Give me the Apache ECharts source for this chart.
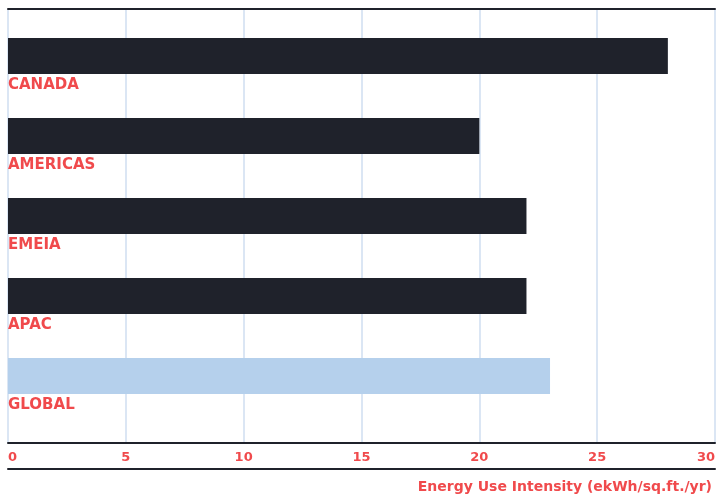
<!DOCTYPE html>
<html>
<head>
<meta charset="utf-8">
<script src="https://cdn.jsdelivr.net/npm/echarts@6/dist/echarts.min.js"></script>
<style>html,body{margin:0;padding:0;background:#fff}#c{width:720px;height:498px}</style>
</head>
<body>
<div id="c"></div>
<script>
const categories = ['CANADA', 'AMERICAS', 'EMEIA', 'APAC', 'GLOBAL'];
const values = [28, 20, 22, 22, 23];
const barColors = ['#1f222b', '#1f222b', '#1f222b', '#1f222b', '#b5d0ec'];
const axisName = 'Energy Use Intensity (ekWh/sq.ft./yr)';
const xMin = 0, xMax = 30, xStep = 5;

const RED = '#f04a4c';
const DARK = '#1f222b';
const FONT = 'DejaVu Sans';

const chart = echarts.init(document.getElementById('c'), null, {renderer: 'canvas'});
chart.setOption({
  animation: false,
  backgroundColor: '#fff',
  title: {
    text: axisName, right: 3, top: 475,
    textStyle: {color: RED, fontSize: 14, fontWeight: 'bold', fontFamily: FONT}
  },
  grid: [
    {left: 8, right: 5, top: 9, bottom: 55},
    {left: 8, right: 5, top: 16, bottom: 82}
  ],
  xAxis: [
    {
      gridIndex: 0, type: 'value', min: xMin, max: xMax, interval: xStep, position: 'bottom',
      axisLine: {show: true, lineStyle: {color: DARK, width: 2}},
      axisTick: {show: false},
      splitLine: {show: true, lineStyle: {color: '#dbe6f4', width: 2}},
      axisLabel: {color: RED, fontSize: 13, fontWeight: 'bold', fontFamily: FONT, margin: 8,
                  alignMinLabel: 'left', alignMaxLabel: 'right'}
    },
    {
      gridIndex: 0, type: 'value', min: xMin, max: xMax, interval: xStep, position: 'top',
      axisLine: {show: true, onZero: false, lineStyle: {color: DARK, width: 2}},
      axisTick: {show: false}, splitLine: {show: false}, axisLabel: {show: false}
    },
    {
      gridIndex: 0, type: 'value', min: xMin, max: xMax, interval: xStep, position: 'bottom', offset: 26,
      axisLine: {show: true, onZero: false, lineStyle: {color: DARK, width: 2}},
      axisTick: {show: false}, splitLine: {show: false}, axisLabel: {show: false}
    },
    {
      gridIndex: 1, type: 'value', min: xMin, max: xMax, show: false
    }
  ],
  yAxis: [
    {gridIndex: 0, type: 'value', show: false},
    {
      gridIndex: 1, type: 'category', data: categories, inverse: true,
      axisLine: {show: false}, axisTick: {show: false}, axisLabel: {show: false}, splitLine: {show: false}
    }
  ],
  series: [{
    type: 'bar', xAxisIndex: 3, yAxisIndex: 1, barWidth: 36,
    data: values.map((v, i) => ({value: v, itemStyle: {color: barColors[i]}})),
    label: {
      show: true, position: [0, '100%'], offset: [0, 4], align: 'left', verticalAlign: 'top',
      formatter: p => p.name, color: RED, fontSize: 15, fontWeight: 'bold', fontFamily: FONT
    }
  }]
});
</script>
</body>
</html>
